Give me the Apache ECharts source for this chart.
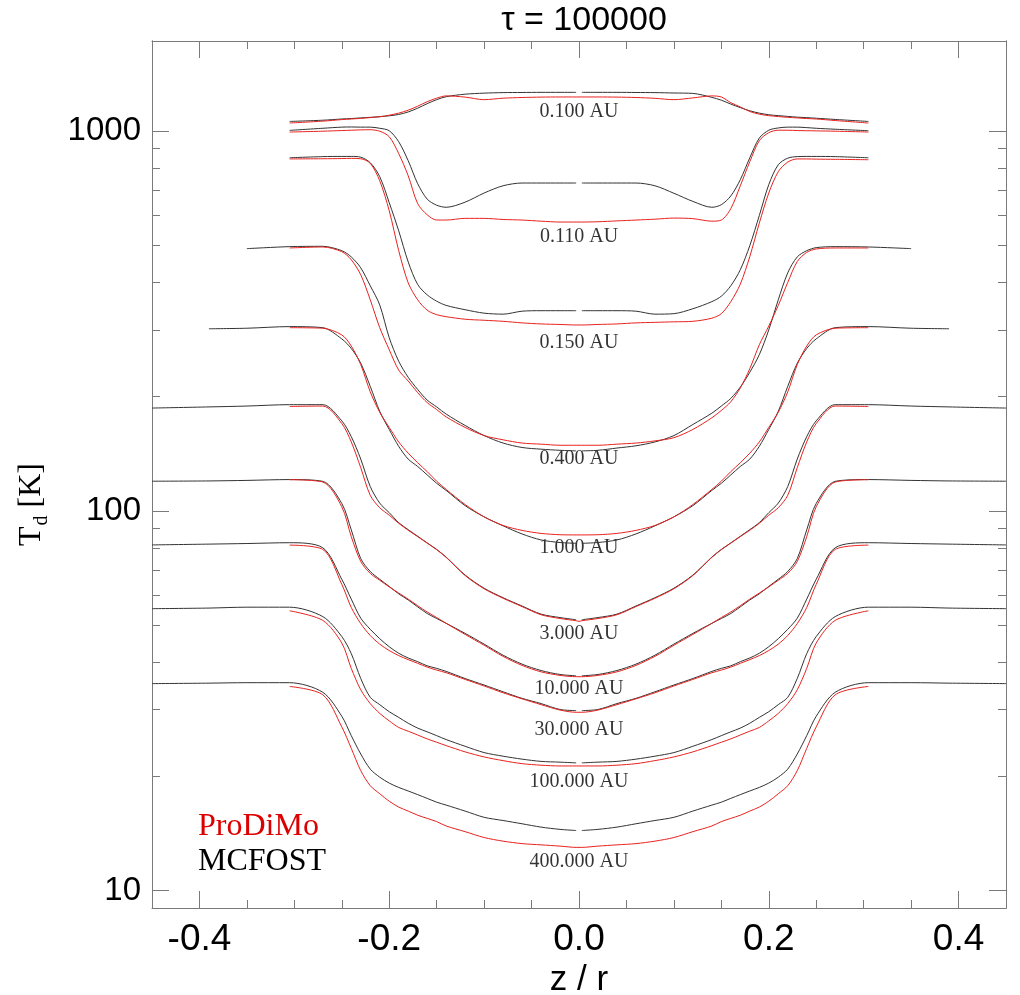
<!DOCTYPE html>
<html>
<head>
<meta charset="utf-8">
<title>Dust temperature vertical profiles</title>
<script src="https://cdn.jsdelivr.net/npm/echarts@6/dist/echarts.min.js"></script>
<style>
  html, body { margin: 0; padding: 0; background: #fff; }
  #chart { width: 1020px; height: 995px; }
</style>
</head>
<body>
<div id="chart"></div>
<script>
const zGrid = [-0.45, -0.39, -0.35, -0.305, -0.27, -0.25, -0.24, -0.23, -0.22, -0.21, -0.2, -0.19, -0.18, -0.17, -0.16, -0.15, -0.14, -0.12, -0.1, -0.08, -0.06, -0.04, -0.02, -0.003,
  0,
  0.003, 0.02, 0.04, 0.06, 0.08, 0.1, 0.12, 0.14, 0.15, 0.16, 0.17, 0.18, 0.19, 0.2, 0.21, 0.22, 0.23, 0.24, 0.25, 0.27, 0.305, 0.35, 0.39, 0.45];

// Td [K] along zGrid (null = no data)
const mcfost_0100 = [null, null, null, 1062, 1070, 1078, 1081, 1085, 1089, 1093, 1099, 1108, 1125, 1151, 1183, 1212, 1234, 1253, 1261, 1265, 1266, 1267, 1267, 1267,
  null,
  1267, 1267, 1267, 1266, 1265, 1262, 1259, 1229, 1208, 1180, 1155, 1133, 1117, 1106, 1100, 1095, 1090, 1087, 1083, 1075, 1062, null, null, null];
const prodimo_0100 = [null, null, null, 1052, 1064, 1074, 1078, 1082, 1087, 1093, 1103, 1117, 1137, 1165, 1197, 1223, 1240, 1231, 1212, 1223, 1228, 1231, 1232, 1232,
  1232,
  1232, 1232, 1231, 1228, 1222, 1212, 1225, 1240, 1232, 1190, 1160, 1128, 1110, 1100, 1094, 1089, 1085, 1081, 1078, 1068, 1052, null, null, null];

const mcfost_0110 = [null, null, null, 1006, 1019, 1026, 1027, 1026, 1026, 1019, 1004, 939, 837, 728, 663, 639, 631, 651, 688, 719, 731, 731, 731, 731,
  null,
  731, 731, 731, 731, 719, 687, 654, 631, 641, 676, 746, 852, 960, 1007, 1021, 1026, 1026, 1023, 1019, 1013, 1004, null, null, null];
const prodimo_0110 = [null, null, null, 996, 1001, 1005, 1007, 1009, 1010, 1001, 968, 874, 764, 645, 603, 584, 584, 590, 590, 586, 584, 580, 577, 577,
  577,
  577, 578, 581, 584, 587, 591, 589, 580, 584, 626, 719, 832, 945, 992, 1007, 1007, 1005, 1004, 1003, 1001, 996, null, null, null];

const mcfost_0150 = [null, null, null, 852, 858, 859, 859, 855, 827, 760, 649, 547, 453, 395, 371, 357, 348, 339, 332, 330, 336, 337, 337, 337,
  null,
  337, 337, 337, 336, 330, 331, 341, 356, 368, 392, 432, 500, 600, 724, 817, 850, 858, 859, 859, 858, 852, null, null, null];
const prodimo_0150 = [null, null, null, 846, 847, 848, 849, 847, 824, 741, 618, 485, 399, 360, 338, 329, 325, 320, 318, 316, 313, 311, 310, 309,
  309,
  309, 310, 311, 313, 314, 315, 316, 322, 331, 356, 396, 468, 573, 688, 783, 830, 846, 846, 845, 844, 842, null, null, null];

const mcfost_0400 = [null, null, 491, 497, 498, 485, 467, 437, 392, 349, 286, 248, 225, 209, 196, 188, 180, 168, 158, 151, 147, 145.5, 144.5, 144,
  null,
  144, 144.5, 146.5, 148.5, 152, 158, 169, 181, 189, 198, 212, 232, 258, 300, 360, 424, 467, 485, 494, 497, 496, 491, null, null];
const prodimo_0400 = [null, null, null, 493, 496, 482, 459, 419, 360, 304, 266, 235, 220, 205, 193, 185, 177, 166, 158, 154, 151, 150, 149, 149,
  149,
  149, 149, 150, 151, 153, 156, 164, 176, 184, 194, 211, 237, 274, 307, 348, 400, 454, 480, 490, 493, 493, null, null, null];

const mcfost_1 = [null, 302, 303, 306, 304, 284, 268, 245, 213, 183, 164, 148, 137, 131, 124.5, 118.3, 113.3, 103.3, 96.5, 91.4, 87.0, 83.9, 82.6, 82.2,
  null,
  82.2, 82.6, 83.9, 87.0, 91.4, 96.5, 103.3, 113.3, 118.3, 124.5, 131, 137, 148, 164, 183, 213, 245, 268, 284, 304, 306, 303, 302, null];
const prodimo_1 = [null, null, null, 304, 303, 291, 272, 243, 206, 182, 166, 152, 142, 134, 127, 119.8, 114, 104, 96.5, 91.6, 88.9, 87.3, 86.6, 86.5,
  86.5,
  86.5, 86.6, 87.3, 88.9, 91.6, 96.5, 104, 114, 119.8, 127, 134, 142, 152, 166, 182, 206, 243, 272, 291, 303, 304, null, null, null];

const mcfost_3 = [186.7, 188, 189, 190.6, 190.6, 172.8, 157, 137, 116, 104.9, 99.0, 93.2, 89.3, 85.8, 82.4, 79.2, 75.6, 67.8, 62.6, 59.1, 56.2, 53.5, 52.4, 51.7,
  null,
  51.7, 52.4, 53.5, 56.2, 59.1, 62.6, 67.8, 75.6, 79.2, 82.4, 85.8, 89.3, 93.2, 99.0, 104.9, 116, 137, 157, 172.8, 190.6, 190.6, 189, 188, 186.7];
const prodimo_3 = [null, null, null, 188.5, 189, 170, 152, 130, 110, 102, 97.5, 92.8, 89.0, 85.6, 82.3, 79.1, 75.5, 67.6, 62.4, 58.9, 56.0, 53.3, 52.1, 51.4,
  51.2,
  51.4, 52.1, 53.3, 56.0, 58.9, 62.4, 67.6, 75.5, 79.1, 82.3, 85.6, 89.0, 92.8, 97.5, 102, 110, 130, 152, 170, 189, 188.5, null, null, null];

const mcfost_10 = [119.8, 120, 120.4, 121, 119.7, 104.7, 89.2, 74.9, 69.3, 66.1, 63.3, 60.5, 58.3, 55.9, 53.7, 52.1, 50.6, 47.6, 44.6, 41.7, 39.5, 38.0, 37.1, 36.8,
  null,
  36.8, 37.1, 38.0, 39.5, 41.7, 44.6, 47.6, 50.6, 52.1, 53.7, 55.9, 58.3, 60.5, 63.3, 66.1, 69.3, 74.9, 89.2, 104.7, 119.7, 121, 120.4, 120, 119.8];
const prodimo_10 = [null, null, null, 120.9, 119.2, 102.6, 85.6, 73.6, 68.5, 65.7, 63.1, 60.8, 58.6, 56.3, 54.2, 52.4, 50.6, 47.3, 44.3, 41.4, 39.2, 37.7, 36.9, 36.6,
  36.6,
  36.6, 36.9, 37.7, 39.2, 41.4, 44.3, 47.3, 50.6, 52.4, 54.2, 56.3, 58.6, 60.8, 63.1, 65.7, 68.5, 73.6, 85.6, 102.6, 119.2, 120.9, null, null, null];

const mcfost_30 = [81.4, 81.8, 82.1, 82.5, 80.0, 66.1, 58.6, 52.2, 48.8, 46.1, 43.9, 42.2, 41.0, 40.1, 39.1, 38.5, 37.8, 36.2, 34.8, 33.4, 32.1, 31.1, 30.0, 29.8,
  null,
  29.8, 30.0, 31.1, 32.1, 33.4, 34.8, 36.2, 37.8, 38.5, 39.1, 40.1, 41.0, 42.2, 43.9, 46.1, 48.8, 52.2, 58.6, 66.1, 80.0, 82.5, 82.1, 81.8, 81.4];
const prodimo_30 = [null, null, null, 81.3, 79.2, 64.1, 55.7, 50.5, 47.0, 44.6, 42.9, 41.6, 40.6, 39.7, 38.8, 38.1, 37.5, 36.0, 34.6, 33.2, 32.0, 30.9, 29.9, 29.5,
  29.5,
  29.5, 29.9, 30.9, 32.0, 33.2, 34.6, 36.0, 37.5, 38.1, 38.8, 39.7, 40.6, 41.6, 42.9, 44.6, 47.0, 50.5, 55.7, 64.1, 79.2, 81.3, null, null, null];

const mcfost_100 = [55.3, 55.5, 55.8, 55.8, 52.7, 46.7, 42.1, 36.2, 32.3, 30.9, 29.6, 28.6, 27.6, 26.8, 26.2, 25.6, 25.0, 24.0, 23.1, 22.6, 22.2, 21.9, 21.8, 21.7,
  null,
  21.7, 21.8, 21.9, 22.2, 22.6, 23.1, 24.0, 25.0, 25.6, 26.2, 26.8, 27.6, 28.6, 29.6, 30.9, 32.3, 36.2, 42.1, 46.7, 52.7, 55.8, 55.8, 55.5, 55.3];
const prodimo_100 = [null, null, null, 54.6, 51.5, 44.9, 38.5, 33.8, 31.1, 29.3, 28.0, 26.9, 26.3, 25.7, 25.1, 24.6, 24.1, 23.2, 22.5, 22.0, 21.6, 21.4, 21.3, 21.3,
  21.3,
  21.3, 21.3, 21.4, 21.6, 22.0, 22.5, 23.2, 24.1, 24.6, 25.1, 25.7, 26.3, 26.9, 28.0, 29.3, 31.1, 33.8, 38.5, 44.9, 51.5, 54.6, null, null, null];

const mcfost_400 = [35.1, 35.2, 35.3, 35.3, 33.3, 28.8, 25.6, 22.9, 20.9, 19.9, 19.2, 18.7, 18.3, 17.9, 17.5, 17.1, 16.8, 16.2, 15.6, 15.3, 15.0, 14.7, 14.5, 14.4,
  null,
  14.4, 14.5, 14.7, 15.0, 15.3, 15.6, 16.2, 16.8, 17.1, 17.5, 17.9, 18.3, 18.7, 19.2, 19.9, 20.9, 22.9, 25.6, 28.8, 33.3, 35.3, 35.3, 35.2, 35.1];
const prodimo_400 = [null, null, null, 34.5, 32.8, 27.0, 23.7, 20.7, 18.9, 18.0, 17.2, 16.6, 16.2, 15.8, 15.5, 15.2, 14.8, 14.3, 13.8, 13.5, 13.3, 13.2, 13.1, 13.0,
  13.0,
  13.0, 13.1, 13.2, 13.3, 13.5, 13.8, 14.3, 14.8, 15.2, 15.5, 15.8, 16.2, 16.6, 17.2, 18.0, 18.9, 20.7, 23.7, 27.0, 32.8, 34.5, null, null, null];

const radii = ['0.100', '0.110', '0.150', '0.400', '1.000', '3.000', '10.000', '30.000', '100.000', '400.000'];
const mcfost = [mcfost_0100, mcfost_0110, mcfost_0150, mcfost_0400, mcfost_1, mcfost_3, mcfost_10, mcfost_30, mcfost_100, mcfost_400];
const prodimo = [prodimo_0100, prodimo_0110, prodimo_0150, prodimo_0400, prodimo_1, prodimo_3, prodimo_10, prodimo_30, prodimo_100, prodimo_400];
// where each radius label sits (at z/r = 0)
const labelT = [1127, 528, 277, 137, 80.0, 47.6, 34.0, 26.6, 19.4, 11.9];

const xMajor = [-0.4, -0.2, 0, 0.2, 0.4];
const yMajor = [10, 100, 1000];
const yMinor = [20, 30, 40, 50, 60, 70, 80, 90, 200, 300, 400, 500, 600, 700, 800, 900];

const SERIF = '"Liberation Serif", "Times New Roman", serif';
const SANS = '"Liberation Sans", Arial, sans-serif';
const FRAME = '#7a7a7a';
const RED = '#e8221e';
const BLACK = '#333333';

const chart = echarts.init(document.getElementById('chart'), null, { renderer: 'canvas' });

function toPoints(values) {
  return zGrid.map((z, i) => [z, values[i]]);
}

function xAxisDef(pos, withLabels) {
  return {
    type: 'value',
    position: pos,
    min: -0.45,
    max: 0.45,
    axisLine: { show: true, onZero: false, lineStyle: { color: FRAME, width: 1 } },
    axisTick: { show: true, inside: true, length: 17, customValues: xMajor, lineStyle: { color: FRAME } },
    minorTick: { show: true, splitNumber: 4, length: 8, lineStyle: { color: FRAME } },
    splitLine: { show: false },
    axisLabel: withLabels ? {
      show: true,
      customValues: xMajor,
      margin: 13,
      color: '#000',
      fontFamily: SANS,
      fontSize: 37,
      formatter: v => v.toFixed(1)
    } : { show: false },
    name: withLabels ? 'z / r' : '',
    nameLocation: 'middle',
    nameGap: 50,
    nameTextStyle: { color: '#000', fontFamily: SANS, fontSize: 35 }
  };
}

function yAxisDef(pos, ticks, len, withLabels) {
  const axis = {
    type: 'log',
    logBase: 10,
    position: pos,
    min: 9,
    max: 1730,
    axisLine: { show: true, onZero: false, lineStyle: { color: FRAME, width: 1 } },
    axisTick: { show: true, inside: true, length: len, customValues: ticks, lineStyle: { color: FRAME } },
    splitLine: { show: false },
    axisLabel: withLabels ? {
      show: true,
      customValues: ticks,
      margin: 11,
      color: '#000',
      fontFamily: SANS,
      fontSize: 33,
      formatter: v => String(Math.round(v))
    } : { show: false }
  };
  if (withLabels) {
    axis.name = '{t|T}{s|d}{t| [K]}';
    axis.nameLocation = 'middle';
    axis.nameRotate = 90;
    axis.nameGap = 100;
    axis.nameTextStyle = {
      padding: [0, 60, 0, 0],
      rich: {
        t: { fontFamily: SERIF, fontSize: 32, color: '#000', verticalAlign: 'top' },
        s: { fontFamily: SERIF, fontSize: 20, color: '#000', verticalAlign: 'top', padding: [16, 0, 0, 1] }
      }
    };
  }
  return axis;
}

const series = [];
radii.forEach((r, i) => {
  series.push({
    name: 'MCFOST',
    type: 'line',
    xAxisIndex: 0,
    yAxisIndex: 0,
    data: toPoints(mcfost[i]),
    showSymbol: false,
    symbol: 'none',
    smooth: 0.3,
    connectNulls: false,
    silent: true,
    color: BLACK,
    lineStyle: { color: BLACK, width: 1 }
  });
  series.push({
    name: 'ProDiMo',
    type: 'line',
    xAxisIndex: 0,
    yAxisIndex: 0,
    data: toPoints(prodimo[i]),
    showSymbol: false,
    symbol: 'none',
    smooth: 0.3,
    connectNulls: false,
    silent: true,
    color: RED,
    lineStyle: { color: RED, width: 1 }
  });
});

series.push({
  name: 'radius',
  type: 'scatter',
  xAxisIndex: 0,
  yAxisIndex: 0,
  silent: true,
  symbol: 'circle',
  symbolSize: 1,
  itemStyle: { color: 'transparent' },
  data: labelT.map((t, i) => ({ value: [0, t], name: radii[i] + ' AU' })),
  label: {
    show: true,
    position: 'inside',
    formatter: '{b}',
    color: '#000',
    fontFamily: SERIF,
    fontSize: 20
  }
});

chart.setOption({
  animation: false,
  backgroundColor: '#fff',
  title: {
    text: 'τ = 100000',
    left: 579,
    top: -1,
    textAlign: 'center',
    textStyle: { color: '#000', fontFamily: SANS, fontSize: 34, fontWeight: 'normal' }
  },
  legend: {
    data: [
      { name: 'ProDiMo', textStyle: { color: '#dd0000' } },
      { name: 'MCFOST', textStyle: { color: '#000' } }
    ],
    orient: 'vertical',
    left: 193,
    top: 811,
    padding: 0,
    itemGap: 3,
    icon: 'rect',
    itemWidth: 0,
    itemHeight: 0,
    selectedMode: false,
    textStyle: { fontFamily: SERIF, fontSize: 32 }
  },
  grid: { left: 152, right: 14, top: 41, bottom: 87, containLabel: false, outerBoundsMode: 'none' },
  xAxis: [xAxisDef('bottom', true), xAxisDef('top', false)],
  yAxis: [
    yAxisDef('left', yMajor, 17, true),
    yAxisDef('left', yMinor, 8, false),
    yAxisDef('right', yMajor, 17, false),
    yAxisDef('right', yMinor, 8, false)
  ],
  series: series
});
</script>
</body>
</html>
